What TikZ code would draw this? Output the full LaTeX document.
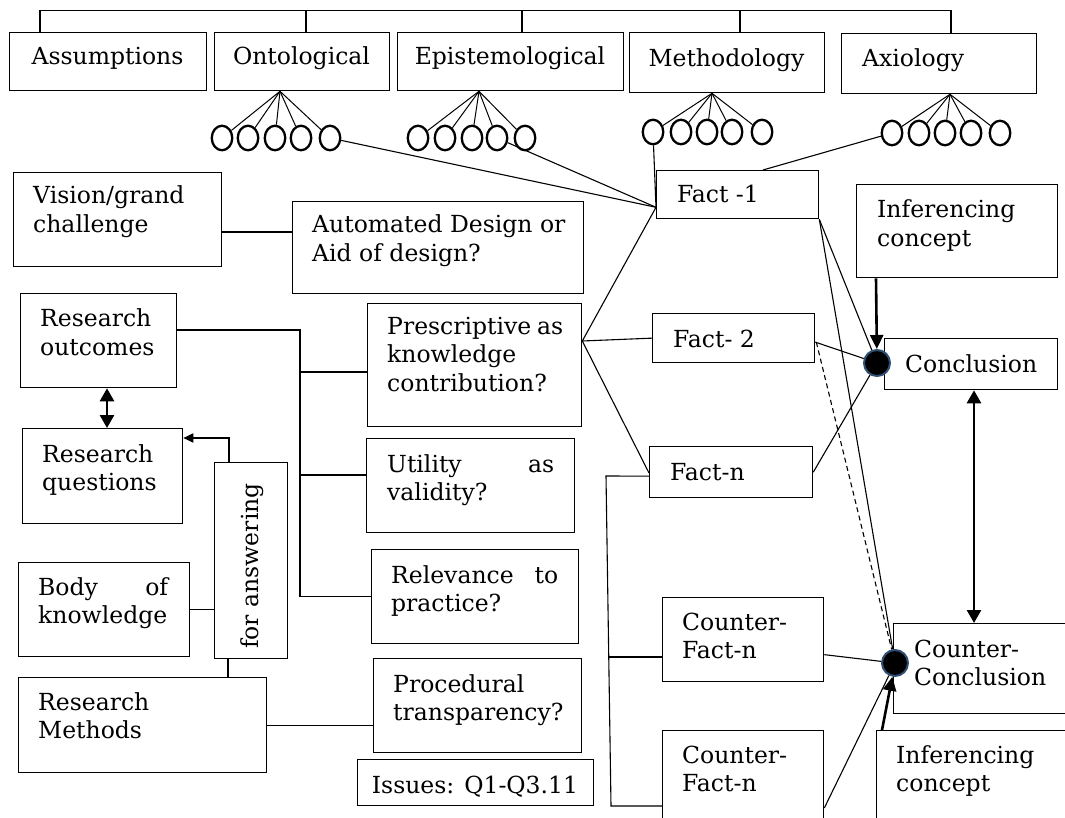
\documentclass[tikz,border=0pt]{standalone}
\usepackage{fontspec}
\setmainfont{DejaVu Serif}
\usetikzlibrary{arrows.meta,calc,shapes.geometric}
\definecolor{dotblue}{HTML}{2E4E73}
\newcommand\fnt{\fontsize{23.5}{28.5}\selectfont}
\newcommand\bbox[5]{\node[bx, minimum width={(#4-#2)*1pt}, minimum height={(#5-#3)*1pt}] (#1) at (#2,#3) {};}
\newcommand\lines[1]{\begin{tabular}[t]{@{}l@{}}#1\end{tabular}}
\tikzset{
  bx/.style={draw=black, line width=1.3pt, inner sep=0pt, anchor=north west, rectangle},
  tx/.style={inner sep=0pt, anchor=base west, font=\fnt},
  tc/.style={inner sep=0pt, anchor=base, font=\fnt},
  ring/.style={draw, ellipse, line width=2.3pt, minimum width=20.5pt, minimum height=24.5pt, inner sep=0pt},
  ln/.style={line width=1.1pt},
  spoke/.style={line width=1pt},
  thk/.style={line width=2.6pt},
  dotc/.style={circle, fill=black, draw=dotblue, line width=2pt, minimum size=26pt, inner sep=0pt},
  tip/.style={-{Triangle[width=13pt,length=14pt]}},
  dtip/.style={{Triangle[width=14pt,length=13pt]}-{Triangle[width=14pt,length=13pt]}},
}
\begin{document}
\begin{tikzpicture}[x=1pt,y=-1pt]
\useasboundingbox (0,0) rectangle (1065,818);
\clip (0,0) rectangle (1065,818);

% ---------- top row ----------
\bbox{assump}{9}{32}{206}{90}
\bbox{onto}{214}{32}{389}{90}
\bbox{epist}{397}{32}{623}{90}
\bbox{meth}{629}{32}{824}{92}
\bbox{axi}{841}{33}{1036}{93}
\node[tc] (assump-t) at (107.5,65) {Assumptions};
\node[tc] (onto-t) at (301.5,65) {Ontological};
\node[tc] (epist-t) at (510,65) {Epistemological};
\node[tc] (meth-t) at (726.5,67) {Methodology};
\node[tx] (axi-t) at (862,67) {Axiology};

\coordinate (d1) at (40,10.5);
\coordinate (d2) at (306,10.5);
\coordinate (d3) at (522,10.5);
\coordinate (d4) at (740,10.5);
\coordinate (d5) at (951,10.5);
\draw[ln] (d1) -- (d5);
\draw[ln] (d1) -- (d1 |- assump.north);
\draw[ln] (d2) -- (d2 |- onto.north);
\draw[ln] (d3) -- (d3 |- epist.north);
\draw[ln] (d4) -- (d4 |- meth.north);
\draw[ln] (d5) -- (d5 |- axi.north);

% ---------- circle fans ----------
\foreach \i/\x in {1/222,2/248,3/275,4/301,5/330} \node[ring] (o\i) at (\x,138) {};
\foreach \i/\x in {1/418,2/445,3/472,4/497,5/525} \node[ring] (e\i) at (\x,138) {};
\foreach \i/\x in {1/653,2/681,3/707,4/732,5/762} \node[ring] (m\i) at (\x,132) {};
\foreach \i/\x in {1/892,2/919,3/945,4/971,5/1000} \node[ring] (a\i) at (\x,133) {};
\coordinate (oa) at ($(onto.south west)+(66,0)$);
\coordinate (ea) at ($(epist.south west)+(82,0)$);
\coordinate (ma) at ($(meth.south west)+(83,0)$);
\coordinate (aa) at ($(axi.south west)+(109,0)$);
\foreach \i in {1,...,5} {
  \draw[spoke] (oa) -- (o\i);
  \draw[spoke] (ea) -- (e\i);
  \draw[spoke] (ma) -- (m\i);
  \draw[spoke] (aa) -- (a\i);
}

% ---------- facts ----------
\bbox{fact1}{656}{170}{818}{218}
\node[tx] (fact1-t) at (677,203) {Fact -1};
\bbox{fact2}{652}{313}{814}{362}
\node[tx] (fact2-t) at (673,347) {Fact- 2};
\bbox{factn}{649}{446}{812}{497}
\node[tx] (factn-t) at (670,480) {Fact-n};
\bbox{cf1}{662}{597}{823}{681}
\node[tx] (cf1-t) at (682,630) {\lines{Counter-\\Fact-n}};
\bbox{cf2}{662}{730}{823}{840}
\node[tx] (cf2-t) at (682,763) {\lines{Counter-\\Fact-n}};

% ---------- right column ----------
\bbox{inf1}{856}{184}{1057}{277}
\node[tx] (inf1-t) at (877,218) {\lines{Inferencing\\concept}};
\bbox{conc}{884}{338}{1057}{389}
\node[tx] (conc-t) at (905,372) {Conclusion};
\bbox{cc}{893}{623}{1080}{713}
\node[tx] (cc-t) at (914,657) {\lines{Counter-\\Conclusion}};
\bbox{inf2}{876}{730}{1080}{840}
\node[tx] (inf2-t) at (896,763) {\lines{Inferencing\\concept}};
\node[dotc] (cdot) at (877,363) {};
\node[dotc] (ccdot) at (895,663) {};

% ---------- middle column ----------
\bbox{vision}{13}{172}{221}{266}
\node[tx] (vision-t) at (33,204) {\lines{Vision/grand\\challenge}};
\bbox{auto}{292}{201}{583}{293}
\node[tx] (auto-t) at (312,233) {\lines{Automated Design or\\Aid of design?}};
\bbox{presc}{367}{303}{581}{426}
\node[tx] (presc-t) at (387,334) {\lines{\makebox[176pt][s]{Prescriptive\hfill as}\\knowledge\\contribution?}};
\bbox{util}{366}{438}{574}{532}
\node[tx] (util-t) at (387,472) {\lines{\makebox[167pt][s]{Utility\hfill as}\\validity?}};
\bbox{rel}{371}{549}{578}{643}
\node[tx] (rel-t) at (391,583) {\lines{\makebox[167pt][s]{Relevance\hfill to}\\practice?}};
\bbox{proc}{373}{658}{581}{752}
\node[tx] (proc-t) at (393,692) {\lines{Procedural\\transparency?}};
\bbox{issues}{357}{759}{593}{805}
\node[tc] (issues-t) at (475,793) {Issues: Q1-Q3.11};

% ---------- left column ----------
\bbox{ro}{20}{293}{176}{387}
\node[tx] (ro-t) at (40,326.5) {\lines{Research\\outcomes}};
\bbox{rq}{22}{428}{182}{523}
\node[tx] (rq-t) at (42,462) {\lines{Research\\questions}};
\bbox{bok}{18}{562}{189}{656}
\node[tx] (bok-t) at (38,595) {\lines{\makebox[130pt][s]{Body\hfill of}\\knowledge}};
\bbox{rm}{18}{677}{266}{772}
\node[tx] (rm-t) at (38,710) {\lines{Research\\Methods}};
\bbox{fa}{214}{462}{287}{658}
\node[inner sep=0pt, font=\fnt, rotate=90] (fa-t) at (252,566) {for answering};

% ---------- connectors: facts ----------
\coordinate (f1in) at ($(fact1.south west)+(0,-12)$);
\draw[ln] (o5) -- (f1in);
\draw[ln] (e4) -- (f1in);
\draw[ln] (m1) -- (f1in);
\draw[ln] (a1) -- ($(fact1.north west)+(107,0)$);
\coordinate (pa) at ($(presc.north east)+(0,38)$);
\draw[ln] (pa) -- (f1in);
\draw[ln] (pa) -- (fact2.west);
\draw[ln] (pa) -- ($(factn.north west)+(0,27)$);
\draw[ln] (fact1.south east) -- (cdot);
\draw[ln] (fact1.south east) -- (ccdot);
\draw[ln] ($(fact2.east)+(0,4)$) -- (cdot);
\draw[ln, dashed, dash pattern=on 5pt off 3.5pt] ($(fact2.east)+(1,4)$) -- (ccdot);
\draw[ln] (factn.east) -- (cdot);
\coordinate (bt) at (606,476);
\coordinate (bm) at (608.5,657);
\coordinate (bb) at (611,806);
\draw[ln] ($(factn.west)+(0,4)$) -- (bt) -- (bb) -- (cf2.west |- bb);
\draw[ln] (bm) -- (cf1.west |- bm);
\draw[ln] ($(cf1.east)+(0,15)$) -- (ccdot);
\draw[ln] ($(cf2.north east)+(0,78)$) -- (ccdot);
\draw[thk, tip] ($(inf1.south west)+(20,0)$) -- (cdot);
\draw[thk, tip] ($(inf2.north west)+(6,0)$) -- (ccdot);
\coordinate (dA) at ($(conc.south west)+(90,0)$);
\draw[thk, dtip] (dA) -- (dA |- cc.north);

% ---------- connectors: left ----------
\coordinate (vl) at ($(vision.north east)+(0,60)$);
\draw[ln] (vl) -- (vl -| auto.west);
\coordinate (r1) at ($(ro.north east)+(0,37)$);
\coordinate (rb) at (300,330);
\draw[ln] (r1) -- (rb) -- (rb |- rel.west) -- (rel.west);
\coordinate (pb) at ($(presc.north west)+(0,69)$);
\draw[ln] (pb -| rb) -- (pb);
\coordinate (ub) at ($(util.north west)+(0,37)$);
\draw[ln] (ub -| rb) -- (ub);
\coordinate (q1) at ($(ro.south west)+(87,0)$);
\draw[thk, dtip] (q1) -- (q1 |- rq.north);
\draw[line width=1.8pt, -{Triangle[width=9pt,length=10pt]}] ($(fa.north west)+(15,0)$) |- ($(rq.north east)+(0,10)$);
\draw[ln] (bok.east) -- (bok.east -| fa.west);
\coordinate (fb) at ($(fa.south west)+(14,0)$);
\draw[ln] (fb) -- (fb |- rm.north);
\draw[ln] (rm.east) -- (rm.east -| proc.west);
\end{tikzpicture}
\end{document}
